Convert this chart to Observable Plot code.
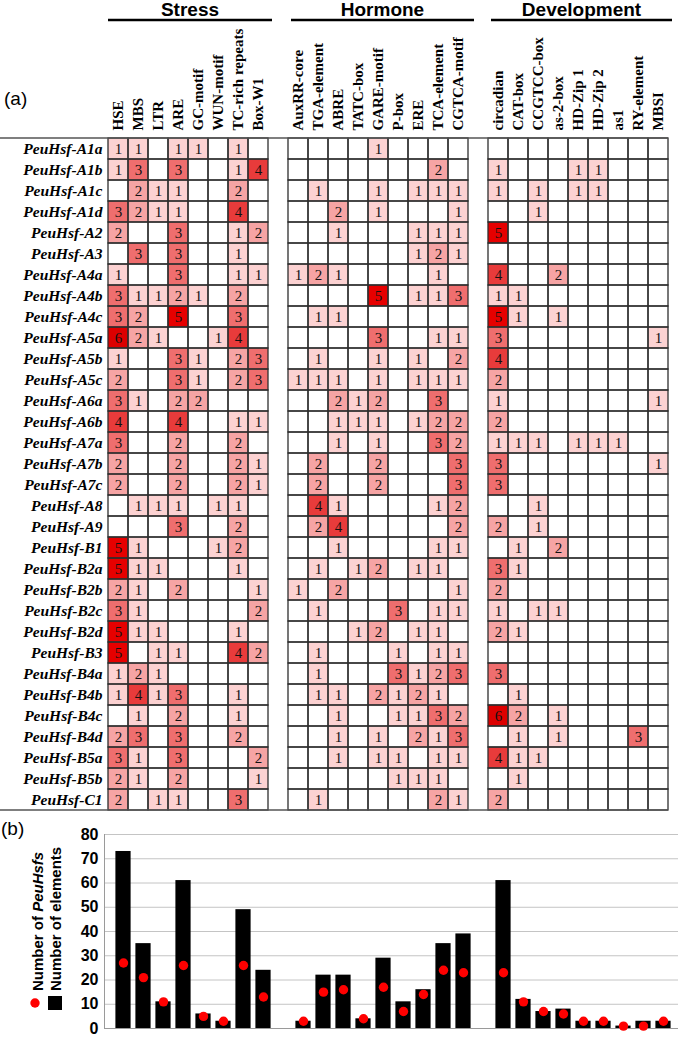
<!DOCTYPE html>
<html>
<head>
<meta charset="utf-8">
<script src="https://cdn.jsdelivr.net/npm/d3@7"></script>
<script src="https://cdn.jsdelivr.net/npm/@observablehq/plot@0.6"></script>
<style>
  html, body { margin: 0; padding: 0; background: #fff; }
  #wrap { position: relative; width: 685px; height: 1045px; overflow: hidden; }
  #wrap svg { display: block; background: #fff; }
</style>
</head>
<body>
<div id="wrap"></div>
<script>
// ---------------- data ----------------
const stress = ["HSE", "MBS", "LTR", "ARE", "GC-motif", "WUN-motif", "TC-rich repeats", "Box-W1"];
const hormone = ["AuxRR-core", "TGA-element", "ABRE", "TATC-box", "GARE-motif", "P-box", "ERE", "TCA-element", "CGTCA-motif"];
const development = ["circadian", "CAT-box", "CCGTCC-box", "as-2-box", "HD-Zip 1", "HD-Zip 2", "as1", "RY-element", "MBSI"];
const groupNames = ["Stress", "Hormone", "Development"];

const genes = ["PeuHsf-A1a","PeuHsf-A1b","PeuHsf-A1c","PeuHsf-A1d","PeuHsf-A2","PeuHsf-A3","PeuHsf-A4a","PeuHsf-A4b",
  "PeuHsf-A4c","PeuHsf-A5a","PeuHsf-A5b","PeuHsf-A5c","PeuHsf-A6a","PeuHsf-A6b","PeuHsf-A7a","PeuHsf-A7b",
  "PeuHsf-A7c","PeuHsf-A8","PeuHsf-A9","PeuHsf-B1","PeuHsf-B2a","PeuHsf-B2b","PeuHsf-B2c","PeuHsf-B2d",
  "PeuHsf-B3","PeuHsf-B4a","PeuHsf-B4b","PeuHsf-B4c","PeuHsf-B4d","PeuHsf-B5a","PeuHsf-B5b","PeuHsf-C1"];

// counts per gene: 8 stress | 9 hormone | 9 development (0 = empty)
const counts = [
  [1,1,0,1,1,0,1,0, 0,0,0,0,1,0,0,0,0, 0,0,0,0,0,0,0,0,0],
  [1,3,0,3,0,0,1,4, 0,0,0,0,0,0,0,2,0, 1,0,0,0,1,1,0,0,0],
  [0,2,1,1,0,0,2,0, 0,1,0,0,1,0,1,1,1, 1,0,1,0,1,1,0,0,0],
  [3,2,1,1,0,0,4,0, 0,0,2,0,1,0,0,0,1, 0,0,1,0,0,0,0,0,0],
  [2,0,0,3,0,0,1,2, 0,0,1,0,0,0,1,1,1, 5,0,0,0,0,0,0,0,0],
  [0,3,0,3,0,0,1,0, 0,0,0,0,0,0,1,2,1, 0,0,0,0,0,0,0,0,0],
  [1,0,0,3,0,0,1,1, 1,2,1,0,0,0,0,1,0, 4,0,0,2,0,0,0,0,0],
  [3,1,1,2,1,0,2,0, 0,0,0,0,5,0,1,1,3, 1,1,0,0,0,0,0,0,0],
  [3,2,0,5,0,0,3,0, 0,1,1,0,0,0,0,0,0, 5,1,0,1,0,0,0,0,0],
  [6,2,1,0,0,1,4,0, 0,0,0,0,3,0,0,1,1, 3,0,0,0,0,0,0,0,1],
  [1,0,0,3,1,0,2,3, 0,1,0,0,1,0,1,0,2, 4,0,0,0,0,0,0,0,0],
  [2,0,0,3,1,0,2,3, 1,1,1,0,1,0,1,1,1, 2,0,0,0,0,0,0,0,0],
  [3,1,0,2,2,0,0,0, 0,0,2,1,2,0,0,3,0, 1,0,0,0,0,0,0,0,1],
  [4,0,0,4,0,0,1,1, 0,0,1,1,1,0,1,2,2, 2,0,0,0,0,0,0,0,0],
  [3,0,0,2,0,0,2,0, 0,0,1,0,1,0,0,3,2, 1,1,1,0,1,1,1,0,0],
  [2,0,0,2,0,0,2,1, 0,2,0,0,2,0,0,0,3, 3,0,0,0,0,0,0,0,1],
  [2,0,0,2,0,0,2,1, 0,2,0,0,2,0,0,0,3, 3,0,0,0,0,0,0,0,0],
  [0,1,1,1,0,1,1,0, 0,4,1,0,0,0,0,1,2, 0,0,1,0,0,0,0,0,0],
  [0,0,0,3,0,0,2,0, 0,2,4,0,0,0,0,0,2, 2,0,1,0,0,0,0,0,0],
  [5,1,0,0,0,1,2,0, 0,0,1,0,0,0,0,1,1, 0,1,0,2,0,0,0,0,0],
  [5,1,1,0,0,0,1,0, 0,1,0,1,2,0,1,1,0, 3,1,0,0,0,0,0,0,0],
  [2,1,0,2,0,0,0,1, 1,0,2,0,0,0,0,0,1, 2,0,0,0,0,0,0,0,0],
  [3,1,0,0,0,0,0,2, 0,1,0,0,0,3,0,1,1, 1,0,1,1,0,0,0,0,0],
  [5,1,1,0,0,0,1,0, 0,0,0,1,2,0,1,1,0, 2,1,0,0,0,0,0,0,0],
  [5,0,1,1,0,0,4,2, 0,1,0,0,0,1,0,1,1, 0,0,0,0,0,0,0,0,0],
  [1,2,1,0,0,0,0,0, 0,1,0,0,0,3,1,2,3, 3,0,0,0,0,0,0,0,0],
  [1,4,1,3,0,0,1,0, 0,1,1,0,2,1,2,1,0, 0,1,0,0,0,0,0,0,0],
  [0,1,0,2,0,0,1,0, 0,0,1,0,0,1,1,3,2, 6,2,0,1,0,0,0,0,0],
  [2,3,0,3,0,0,2,0, 0,0,1,0,1,0,2,1,3, 0,1,0,1,0,0,0,3,0],
  [3,1,0,3,0,0,0,2, 0,0,1,0,1,1,0,1,1, 4,1,1,0,0,0,0,0,0],
  [2,1,0,2,0,0,0,1, 0,0,0,0,0,1,1,1,0, 0,1,0,0,0,0,0,0,0],
  [2,0,1,1,0,0,3,0, 0,1,0,0,0,0,0,2,1, 2,0,0,0,0,0,0,0,0]
];

// (b) totals, same element order
const nElements = [73,35,11,61,6,3,49,24, 3,22,22,4,29,11,16,35,39, 61,12,7,8,3,3,1,3,3];
const nPeuHsfs  = [27,21,11,26,5,3,26,13, 3,15,16,4,17,7,14,24,23, 23,11,7,6,3,3,1,1,3];
const yTicks = [0,10,20,30,40,50,60,70,80];

const countLevels = [1,2,3,4,5,6];
const countColors = ["#fcd2d2","#f6a4a4","#ef6e6e","#e83b3b","#e60000","#dc0000"];

// ---------------- build ----------------
const elements = [...stress, ...hormone, ...development];
const xDomain = [...stress, "gap1", ...hormone, "gap2", ...development];
const cells = [];
genes.forEach((g, i) => elements.forEach((c, j) => cells.push({gene: g, col: c, v: counts[i][j]})));
const filled = cells.filter(d => d.v > 0);

const SERIF = "'Liberation Serif', 'Times New Roman', serif";
const SANS = "'Liberation Sans', Arial, sans-serif";

const heat = Plot.plot({
  width: 685,
  height: 815,
  marginLeft: 108,
  marginRight: 17,
  marginTop: 137,
  marginBottom: 5,
  style: {background: "#fff", color: "#000"},
  x: {domain: xDomain, padding: 0, axis: null},
  y: {domain: genes, padding: 0, axis: null},
  color: {type: "ordinal", domain: countLevels, range: countColors},
  marks: [
    Plot.cell(filled, {x: "col", y: "gene", fill: "v", inset: 0}),
    Plot.cell(cells, {x: "col", y: "gene", fill: "none", stroke: "#2e2e2e", strokeWidth: 1.3, inset: 0}),
    Plot.text(filled, {x: "col", y: "gene", text: d => String(d.v), fontFamily: SERIF, fontSize: 15, fill: "#111"}),
    Plot.axisY({anchor: "left", tickSize: 0, tickPadding: 6, fontFamily: SERIF, fontSize: 15.5,
      fontWeight: "bold", fontStyle: "italic", fill: "#000", label: null}),
    Plot.axisX({anchor: "top", ticks: elements, tickSize: 0, tickPadding: 7, tickRotate: -90,
      textAnchor: "start", lineAnchor: "middle", fontFamily: SERIF, fontSize: 15, fontWeight: "bold", fill: "#000", label: null})
  ]
});

const barData = elements.map((c, i) => ({col: c, elements: nElements[i], peu: nPeuHsfs[i]}));

const bars = Plot.plot({
  width: 685,
  height: 230,
  marginLeft: 104,
  marginRight: 7,
  marginTop: 19,
  marginBottom: 17,
  style: {background: "#fff", color: "#000"},
  x: {domain: xDomain, padding: 0, insetLeft: 6, insetRight: 2, axis: null},
  y: {domain: [0, 80], ticks: yTicks, axis: null},
  marks: [
    Plot.gridY(yTicks, {stroke: "#c4c4c4", strokeOpacity: 1, strokeWidth: 1}),
    Plot.frame({anchor: "left", stroke: "#9a9a9a"}),
    Plot.ruleY([0], {stroke: "#9a9a9a"}),
    Plot.barY(barData, {x: "col", y: "elements", fill: "#000", insetLeft: 2.4, insetRight: 2.4}),
    Plot.dot(barData, {x: "col", y: "peu", r: 4.7, fill: "#ff0000", stroke: "none"}),
    Plot.axisY(yTicks, {anchor: "left", tickSize: 0, tickPadding: 6, fontFamily: SANS, fontSize: 16,
      fontWeight: "bold", fill: "#000", label: null})
  ]
});

const wrap = document.getElementById("wrap");
wrap.appendChild(heat);
wrap.appendChild(bars);

// ---------------- decorations ----------------
const hx = heat.scale("x");
const hy = heat.scale("y");
const bw = hx.bandwidth;
const xOf = c => hx.apply(c);
const svg1 = d3.select(heat);

// table top / bottom borders spanning the label column
const tableTop = hy.apply(genes[0]);
const tableBottom = hy.apply(genes[genes.length - 1]) + hy.bandwidth;
const tableRight = xOf(development[development.length - 1]) + bw;
[tableTop, tableBottom].forEach(yv => {
  svg1.append("line").attr("x1", 0).attr("x2", tableRight).attr("y1", yv).attr("y2", yv)
    .attr("stroke", "#555").attr("stroke-width", 1.6);
});

// group titles + underlines
const groups = [stress, hormone, development];
const lineExtra = [[0, 4], [3, 6], [3, 4]];
groups.forEach((g, i) => {
  const x0 = xOf(g[0]) + lineExtra[i][0];
  const x1 = xOf(g[g.length - 1]) + bw + lineExtra[i][1];
  svg1.append("line").attr("x1", x0).attr("x2", x1).attr("y1", 20).attr("y2", 20)
    .attr("stroke", "#000").attr("stroke-width", 2.6);
  svg1.append("text").attr("x", (x0 + x1) / 2).attr("y", 15.5)
    .attr("text-anchor", "middle").attr("font-family", SANS).attr("font-weight", "bold")
    .attr("font-size", 19).attr("fill", "#000").text(groupNames[i]);
});

svg1.append("text").attr("x", 4).attr("y", 105).attr("text-anchor", "start").attr("font-family", SANS)
  .attr("font-size", 19).attr("fill", "#000").text("(a)");

// (b) label and legend
const svg2 = d3.select(bars);
svg2.append("text").attr("x", 1).attr("y", 20).attr("text-anchor", "start").attr("font-family", SANS)
  .attr("font-size", 19).attr("fill", "#000").text("(b)");

svg2.append("circle").attr("cx", 35).attr("cy", 188).attr("r", 4.7).attr("fill", "#ff0000");
svg2.append("rect").attr("x", 48).attr("y", 181).attr("width", 14).attr("height", 14).attr("fill", "#000");

const t1 = svg2.append("text").attr("transform", "translate(37,176) rotate(-90)")
  .attr("text-anchor", "start")
  .attr("font-family", SANS).attr("font-weight", "bold").attr("font-size", 15)
  .attr("dominant-baseline", "central").attr("fill", "#000");
t1.append("tspan").text("Number of ");
t1.append("tspan").attr("font-style", "italic").text("PeuHsfs");

svg2.append("text").attr("transform", "translate(55,176) rotate(-90)")
  .attr("text-anchor", "start")
  .attr("font-family", SANS).attr("font-weight", "bold").attr("font-size", 15)
  .attr("dominant-baseline", "central").attr("fill", "#000").text("Number of elements");
</script>
</body>
</html>
